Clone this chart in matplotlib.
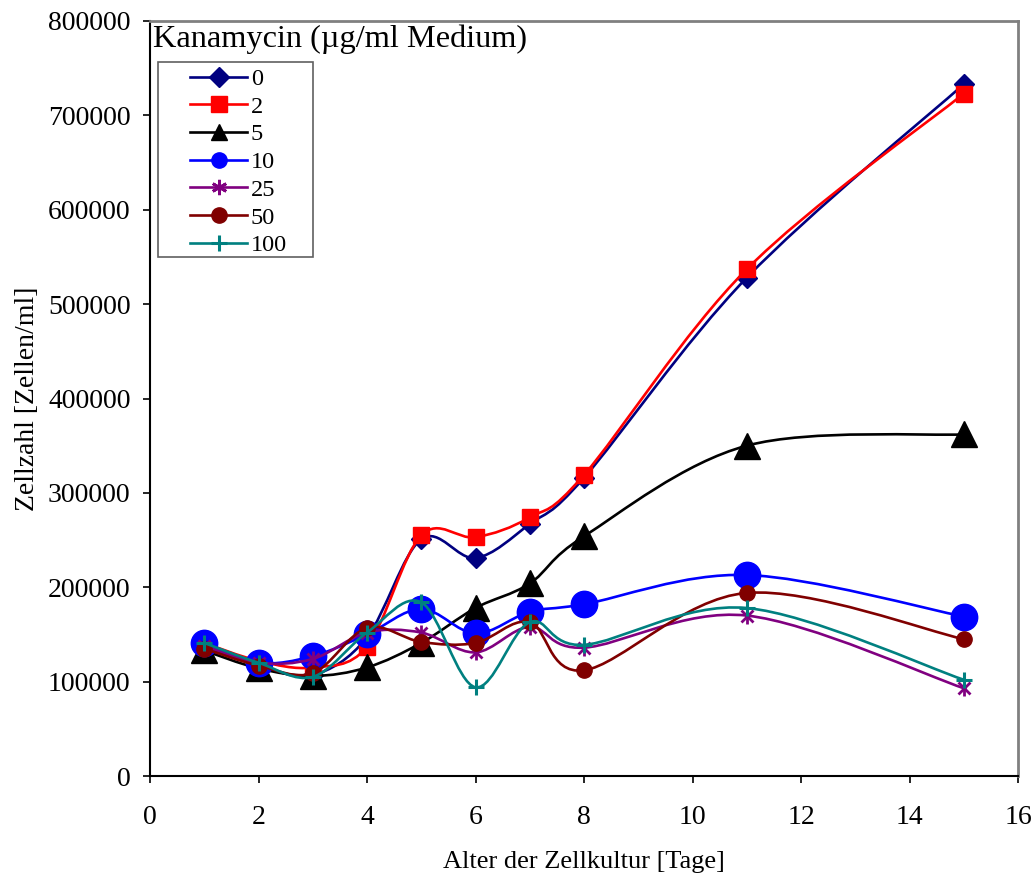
import matplotlib
matplotlib.use("Agg")
import matplotlib.pyplot as plt
from matplotlib.path import Path
from matplotlib.patches import PathPatch, Rectangle
from matplotlib.lines import Line2D

plt.rcParams['font.family'] = ['Liberation Serif', 'DejaVu Serif']

# Culture age in days
days = [1, 2, 3, 4, 5, 6, 7, 8, 11, 15]

# Kanamycin concentration (µg/ml medium) -> cell counts (cells/ml)
conc_labels = ["0", "2", "5", "10", "25", "50", "100"]
cells_0 = [138000, 117000, 107000, 147000, 251000, 231000, 267000, 316000, 528000, 733000]
cells_2 = [141000, 122000, 115000, 137000, 255000, 253000, 274000, 319000, 537000, 723000]
cells_5 = [133000, 114000, 106000, 115000, 141000, 178000, 204000, 254000, 350000, 362000]
cells_10 = [141000, 120000, 127000, 150000, 177000, 151000, 174000, 182000, 213000, 169000]
cells_25 = [138000, 120000, 124000, 152000, 152000, 131000, 158000, 136000, 170000, 93000]
cells_50 = [135000, 117000, 109000, 157000, 142000, 141000, 163000, 112000, 194000, 145000]
cells_100 = [141000, 120000, 105000, 152000, 184000, 94000, 163000, 139000, 178000, 102000]

series = [cells_0, cells_2, cells_5, cells_10, cells_25, cells_50, cells_100]

colors = ["#000080", "#FF0000", "#000000", "#0000FF", "#800080", "#800000", "#008080"]
markers = ["D", "s", "^", "o", "*", "o", "+"]
plot_ms = [10, 11, 19, 19, 11, 11, 12]
legend_ms = [10, 11, 11, 11, 11, 11, 12]
mews = [1, 1, 1, 1, 1, 1, 2.2]


def smooth_path(xs, ys):
    """Cubic Bezier through the points (Catmull-Rom style tangents)."""
    n = len(xs)
    verts = [(xs[0], ys[0])]
    codes = [Path.MOVETO]
    for i in range(n - 1):
        x0, y0 = (xs[i - 1], ys[i - 1]) if i > 0 else (xs[i], ys[i])
        x1, y1 = xs[i], ys[i]
        x2, y2 = xs[i + 1], ys[i + 1]
        x3, y3 = (xs[i + 2], ys[i + 2]) if i + 2 < n else (xs[i + 1], ys[i + 1])
        c1 = (x1 + (x2 - x0) / 6.0, y1 + (y2 - y0) / 6.0)
        c2 = (x2 - (x3 - x1) / 6.0, y2 - (y3 - y1) / 6.0)
        verts += [c1, c2, (x2, y2)]
        codes += [Path.CURVE4] * 3
    return Path(verts, codes)


W, H = 1033, 876
fig = plt.figure(figsize=(W / 100, H / 100), dpi=100)
ax = fig.add_axes([150 / W, 1 - 776 / H, 868 / W, 755 / H])

ax.set_xlim(0, 16)
ax.set_ylim(0, 800000)

for k, (vals, col, mk, ms, mew) in enumerate(zip(series, colors, markers, plot_ms, mews)):
    z = 3 + 2 * k
    ax.add_patch(PathPatch(smooth_path(days, vals), facecolor="none",
                           edgecolor=col, lw=1.9, zorder=z, capstyle="round"))
    if mk == "*":
        ax.plot(days, vals, ls="none", marker="x", ms=ms * 0.85, mew=2.0,
                color=col, zorder=z + 1)
        ax.plot(days, vals, ls="none", marker="|", ms=ms * 1.1, mew=2.0,
                color=col, zorder=z + 1)
    else:
        ax.plot(days, vals, ls="none", marker=mk, ms=ms, mew=mew,
                markerfacecolor=col, markeredgecolor=col, zorder=z + 1)

ax.set_xticks(range(0, 17, 2))
ax.set_yticks(range(0, 800001, 100000))
ax.set_yticklabels([str(v) for v in range(0, 800001, 100000)])
ax.tick_params(axis="both", direction="out", length=5, width=1.2, labelsize=20)
ax.tick_params(axis="x", pad=16)
ax.tick_params(axis="y", pad=9)

for side in ("top", "right"):
    ax.spines[side].set_color("#808080")
    ax.spines[side].set_linewidth(2)
for side in ("left", "bottom"):
    ax.spines[side].set_color("black")
    ax.spines[side].set_linewidth(1.5)

ax.set_xlabel("Alter der Zellkultur [Tage]", fontsize=19, labelpad=15)
ax.set_ylabel("Zellzahl [Zellen/ml]", fontsize=20, labelpad=6)

# Legend title sits above the legend frame
ax.text(0.003, 0.995, "Kanamycin (µg/ml Medium)", transform=ax.transAxes,
        fontsize=23.3, ha="left", va="top", zorder=30)

handles = []
for col, mk, ms, mew in zip(colors, markers, legend_ms, mews):
    if mk == "*":
        handles.append(Line2D([], [], color=col, lw=1.9, marker=(6, 2, 0),
                              ms=ms, mew=2.0, markeredgecolor=col))
    else:
        handles.append(Line2D([], [], color=col, lw=1.9, marker=mk, ms=ms,
                              mew=mew, markerfacecolor=col, markeredgecolor=col))

# legend frame
fig.add_artist(Rectangle((158 / W, 1 - 257 / H), 155 / W, 195 / H,
                         transform=fig.transFigure, facecolor="white",
                         edgecolor="#606060", lw=1.2, zorder=29))

leg = fig.legend(handles, conc_labels, loc="upper left",
                 bbox_to_anchor=(190 / W, 1 - 68 / H), fontsize=17.5,
                 frameon=False, handlelength=2.35, handletextpad=0.15,
                 labelspacing=0.235, borderpad=0, borderaxespad=0)
leg.set_zorder(31)

fig.savefig("out.png", dpi=100)
